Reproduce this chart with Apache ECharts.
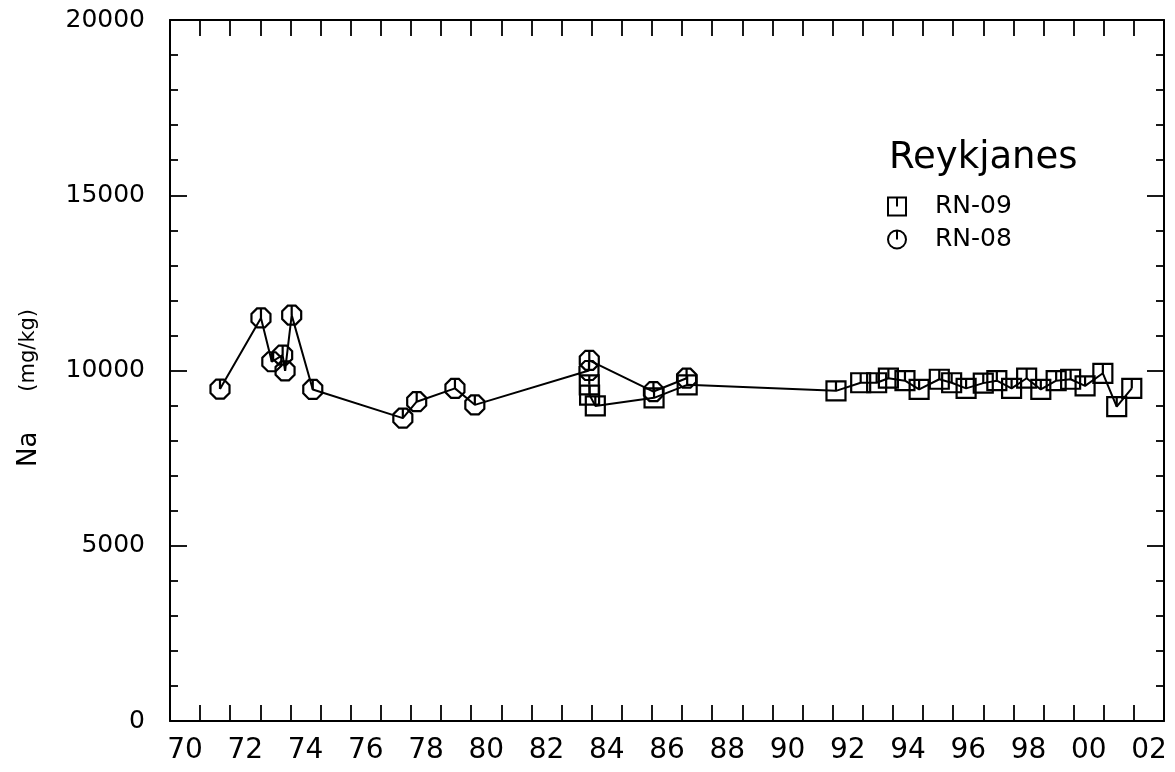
<!DOCTYPE html>
<html>
<head>
<meta charset="utf-8">
<script src="https://cdn.jsdelivr.net/npm/echarts@6/dist/echarts.min.js"></script>
<style>
html,body{margin:0;padding:0;background:#fff;}
#chart{width:1175px;height:772px;}
</style>
</head>
<body>
<div id="chart"></div>
<script>
// ---- data ----
const xTickLabels = ['70','72','74','76','78','80','82','84','86','88','90','92','94','96','98','00','02'];
const yTickValues = [0, 5000, 10000, 15000, 20000];

const rn08Years = [1971.66, 1973.02, 1973.38, 1973.74, 1973.82, 1974.04, 1974.74, 1977.73, 1978.19, 1979.46, 1980.12, 1983.91, 1983.92, 1986.05, 1987.15];
const rn08Na    = [9470, 11500, 10250, 10440, 9990, 11580, 9460, 8640, 9110, 9490, 9020, 10000, 10290, 9400, 9780];

const rn09Years = [1983.92, 1983.93, 1984.12, 1986.07, 1987.17, 1992.11, 1992.93, 1993.46, 1993.85, 1994.40, 1994.87, 1995.54, 1995.95, 1996.43, 1997.00, 1997.45, 1997.94, 1998.44, 1998.91, 1999.42, 1999.90, 2000.38, 2000.97, 2001.43, 2001.93];
const rn09Na    = [9590, 9300, 8990, 9220, 9590, 9420, 9650, 9650, 9780, 9710, 9460, 9750, 9650, 9490, 9640, 9710, 9490, 9780, 9460, 9710, 9750, 9560, 9920, 8970, 9490];

const legendTitle = 'Reykjanes';
const yName = 'Na';
const yUnit = '(mg/kg)';

// ---- build ----
const zip = (xs, ys) => xs.map((x, i) => [x, ys[i]]);
const FONT = "'DejaVu Sans', sans-serif";
const sqSym = 'path://M0,0L10,0L10,10L0,10Z M5,0L5,5';
const octSym = 'path://M2.93,0L7.07,0L10,2.93L10,7.07L7.07,10L2.93,10L0,7.07L0,2.93Z M5,0L5,5';
const circSym = 'path://M5,0A5,5,0,1,1,4.99,0Z M5,0L5,5';
const labelPos = xTickLabels.map((_, i) => 1970.5 + 2 * i);

const axisLine = {show: true, onZero: false, lineStyle: {color: '#000', width: 2}};
const tickStyle = {color: '#000', width: 1.8};

const chart = echarts.init(document.getElementById('chart'), null, {renderer: 'canvas'});
chart.setOption({
  animation: false,
  backgroundColor: '#fff',
  title: {
    text: legendTitle, left: 889, top: 140, padding: 0,
    textStyle: {fontFamily: FONT, fontSize: 37, fontWeight: 'normal', color: '#000'}
  },
  legend: {
    orient: 'vertical', left: 887, top: 194, itemGap: 8, padding: 0,
    itemWidth: 18, itemHeight: 18,
    itemStyle: {color: 'rgba(255,255,255,0)', borderColor: '#000', borderWidth: 2},
    textStyle: {fontFamily: FONT, fontSize: 25, color: '#000', padding: [0, 0, 0, 24]},
    data: [{name: 'RN-09', icon: sqSym}, {name: 'RN-08', icon: circSym}]
  },
  grid: {left: 170, right: 11, top: 20, bottom: 51, containLabel: false},
  xAxis: [{
    type: 'value', min: 1970, max: 2003, interval: 1, position: 'bottom',
    axisLine: axisLine,
    axisTick: {show: true, inside: true, length: 16, lineStyle: tickStyle},
    splitLine: {show: false},
    axisLabel: {
      customValues: labelPos, margin: 16,
      fontFamily: FONT, fontSize: 28, color: '#000',
      formatter: v => xTickLabels[Math.round((v - 1970.5) / 2)]
    }
  }, {
    type: 'value', min: 1970, max: 2003, interval: 1, position: 'top',
    axisLine: axisLine,
    axisTick: {show: true, inside: true, length: 16, lineStyle: tickStyle},
    splitLine: {show: false}, axisLabel: {show: false}
  }],
  yAxis: [{
    type: 'value', min: 0, max: 20000, interval: 5000, position: 'left',
    axisLine: axisLine,
    axisTick: {show: true, inside: true, length: 17, lineStyle: tickStyle},
    minorTick: {show: true, splitNumber: 5, length: 8, lineStyle: tickStyle},
    splitLine: {show: false},
    axisLabel: {
      margin: 25, fontFamily: FONT, fontSize: 25, color: '#000',
      customValues: yTickValues, formatter: v => String(v)
    },
    name: '{a|' + yName + '}{b|' + yUnit + '}',
    nameLocation: 'middle', nameRotate: 90, nameGap: 128,
    nameTextStyle: {
      fontFamily: FONT, color: '#000',
      rich: {
        a: {fontFamily: FONT, fontSize: 26, color: '#000'},
        b: {fontFamily: FONT, fontSize: 21, color: '#000', padding: [0, 35, 0, 40]}
      }
    }
  }, {
    type: 'value', min: 0, max: 20000, interval: 5000, position: 'right',
    axisLine: axisLine,
    axisTick: {show: true, inside: true, length: 17, lineStyle: tickStyle},
    minorTick: {show: true, splitNumber: 5, length: 8, lineStyle: tickStyle},
    splitLine: {show: false}, axisLabel: {show: false}
  }],
  series: [{
    name: 'RN-09', type: 'line', xAxisIndex: 0, yAxisIndex: 0,
    data: zip(rn09Years, rn09Na),
    symbol: sqSym, symbolSize: 19, showAllSymbol: true,
    itemStyle: {color: 'rgba(255,255,255,0)', borderColor: '#000', borderWidth: 2.2},
    lineStyle: {color: '#000', width: 2},
    emphasis: {disabled: true}
  }, {
    name: 'RN-08', type: 'line', xAxisIndex: 0, yAxisIndex: 0,
    data: zip(rn08Years, rn08Na),
    symbol: octSym, symbolSize: 19, showAllSymbol: true,
    itemStyle: {color: 'rgba(255,255,255,0)', borderColor: '#000', borderWidth: 2.2},
    lineStyle: {color: '#000', width: 2},
    emphasis: {disabled: true}
  }]
});
</script>
</body>
</html>
